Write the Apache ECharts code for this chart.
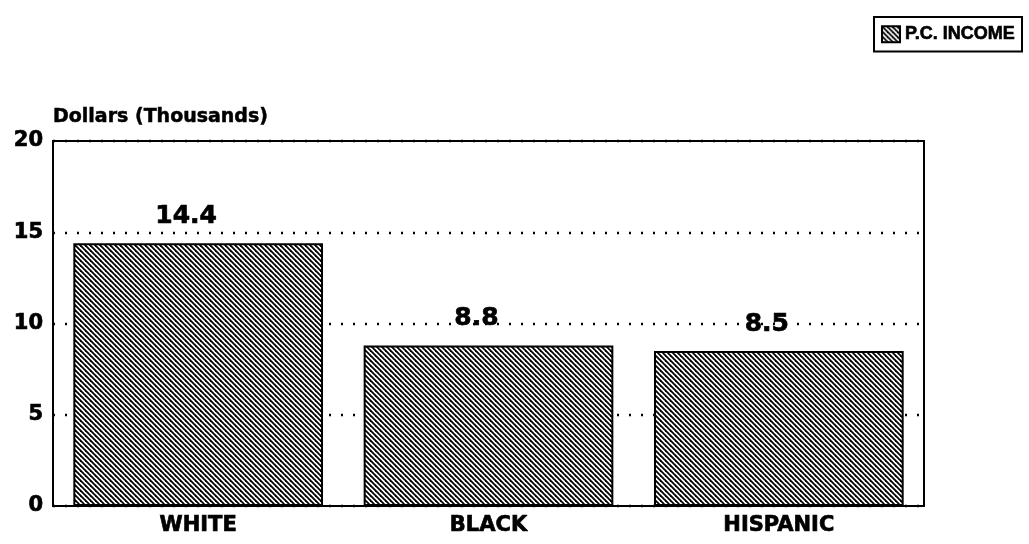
<!DOCTYPE html>
<html>
<head>
<meta charset="utf-8">
<script src="https://cdn.jsdelivr.net/npm/echarts@6/dist/echarts.min.js"></script>
<style>
  html, body { margin: 0; padding: 0; background: #fff; }
  #chart { width: 1029px; height: 544px; }
</style>
</head>
<body>
<div id="chart"></div>
<script>
// Per-capita income by group, in thousands of dollars
const categories = ['WHITE', 'BLACK', 'HISPANIC'];
const incomeValues = [14.4, 8.8, 8.5];
const seriesName = 'P.C. INCOME';
const axisTitle = 'Dollars (Thousands)';

const FONT = '"DejaVu Sans", sans-serif';
const LEGEND_FONT = '"Liberation Sans", Arial, sans-serif';

// Heavy black text: bold face plus a thin outline
function heavy(size, family, stroke) {
  return {
    fontFamily: family || FONT, fontWeight: 'bold', fontSize: size, color: '#000',
    textBorderColor: '#000', textBorderWidth: stroke == null ? 0.7 : stroke
  };
}

// Diagonal hatch fill (lines running top-left to bottom-right)
function makeHatch() {
  const s = 5;
  const c = document.createElement('canvas');
  c.width = s; c.height = s;
  const g = c.getContext('2d');
  g.fillStyle = '#fff';
  g.fillRect(0, 0, s, s);
  g.strokeStyle = '#000';
  g.lineWidth = 1.8;
  for (const x0 of [-s, 0, s]) {
    g.beginPath();
    g.moveTo(x0 - 1, -1);
    g.lineTo(x0 + s + 1, s + 1);
    g.stroke();
  }
  return c;
}
const hatch = { image: makeHatch(), repeat: 'repeat' };

const chart = echarts.init(document.getElementById('chart'), null, { renderer: 'canvas' });
chart.setOption({
  animation: false,
  backgroundColor: '#fff',
  grid: {
    left: 53, right: 105, top: 141, bottom: 38,
    show: true, borderColor: '#000', borderWidth: 2, backgroundColor: 'transparent'
  },
  legend: {
    data: [{ name: seriesName, icon: 'rect' }],
    right: 7, top: 17,
    backgroundColor: '#fff',
    borderColor: '#000', borderWidth: 2,
    padding: [8, 7, 8, 7],
    itemWidth: 18, itemHeight: 16, itemGap: 5,
    textStyle: heavy(18, LEGEND_FONT, 0.6)
  },
  xAxis: {
    type: 'category',
    data: categories,
    axisLine: { show: true, lineStyle: { color: '#000', width: 2 } },
    axisTick: { show: false },
    axisLabel: Object.assign(heavy(21), { margin: 9 })
  },
  yAxis: {
    type: 'value',
    min: 0, max: 20, interval: 5,
    name: axisTitle,
    nameLocation: 'end',
    nameGap: 14,
    nameTextStyle: Object.assign(heavy(19, null, 0.5), { align: 'left' }),
    axisLine: { show: true, lineStyle: { color: '#000', width: 2 } },
    axisTick: { show: false },
    axisLabel: Object.assign(heavy(21), { margin: 10 }),
    splitLine: { show: true, lineStyle: { color: '#000', width: 2.4, type: [2, 10] } }
  },
  series: [{
    name: seriesName,
    type: 'bar',
    data: incomeValues,
    barWidth: '86%',
    itemStyle: { color: hatch, borderColor: '#000', borderWidth: 2 },
    label: Object.assign(heavy(25), {
      show: true, position: 'top', distance: 14, offset: [-12, 0],
      formatter: p => p.value.toFixed(1)
    })
  }]
});
</script>
</body>
</html>
